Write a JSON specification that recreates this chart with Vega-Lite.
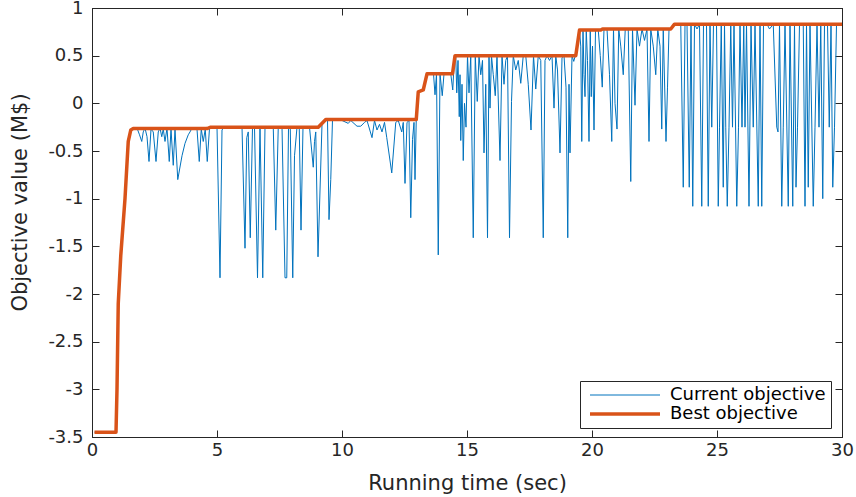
{
  "$schema": "https://vega.github.io/schema/vega-lite/v6.json",
  "width": 750,
  "height": 429,
  "autosize": "none",
  "padding": {"left": 92, "top": 8, "right": 14, "bottom": 60},
  "background": "white",
  "datasets": {
    "cur": [
      {"s":"Current objective","t":0.1,"v":-3.45},{"s":"Current objective","t":0.96,"v":-3.45},{"s":"Current objective","t":1.0,"v":-3.0},{"s":"Current objective","t":1.05,"v":-2.1},{"s":"Current objective","t":1.15,"v":-1.6},{"s":"Current objective","t":1.32,"v":-1.0},{"s":"Current objective","t":1.45,"v":-0.4},{"s":"Current objective","t":1.55,"v":-0.28},{"s":"Current objective","t":1.62,"v":-0.26},
      {"s":"Current objective","t":1.8,"v":-0.26},{"s":"Current objective","t":1.9,"v":-0.33},{"s":"Current objective","t":1.99,"v":-0.4},{"s":"Current objective","t":2.05,"v":-0.3},{"s":"Current objective","t":2.12,"v":-0.26},{"s":"Current objective","t":2.2,"v":-0.35},{"s":"Current objective","t":2.28,"v":-0.61},{"s":"Current objective","t":2.36,"v":-0.27},{"s":"Current objective","t":2.45,"v":-0.3},{"s":"Current objective","t":2.56,"v":-0.61},{"s":"Current objective","t":2.65,"v":-0.3},{"s":"Current objective","t":2.72,"v":-0.26},{"s":"Current objective","t":2.79,"v":-0.35},{"s":"Current objective","t":2.85,"v":-0.27},{"s":"Current objective","t":2.92,"v":-0.4},{"s":"Current objective","t":3.0,"v":-0.26},{"s":"Current objective","t":3.09,"v":-0.61},{"s":"Current objective","t":3.16,"v":-0.27},{"s":"Current objective","t":3.25,"v":-0.65},{"s":"Current objective","t":3.32,"v":-0.27},{"s":"Current objective","t":3.43,"v":-0.8},{"s":"Current objective","t":3.6,"v":-0.55},{"s":"Current objective","t":3.72,"v":-0.42},{"s":"Current objective","t":3.85,"v":-0.33},{"s":"Current objective","t":3.92,"v":-0.3},{"s":"Current objective","t":4.0,"v":-0.26},{"s":"Current objective","t":4.2,"v":-0.27},{"s":"Current objective","t":4.29,"v":-0.61},{"s":"Current objective","t":4.37,"v":-0.27},{"s":"Current objective","t":4.45,"v":-0.4},{"s":"Current objective","t":4.53,"v":-0.27},{"s":"Current objective","t":4.61,"v":-0.61},{"s":"Current objective","t":4.7,"v":-0.26},
      {"s":"Current objective","t":4.79,"v":-0.26},{"s":"Current objective","t":5.0,"v":-0.25},{"s":"Current objective","t":5.12,"v":-1.83},{"s":"Current objective","t":5.2,"v":-0.28},{"s":"Current objective","t":5.25,"v":-0.26},{"s":"Current objective","t":5.4,"v":-0.25},{"s":"Current objective","t":5.9,"v":-0.25},{"s":"Current objective","t":6.0,"v":-0.25},{"s":"Current objective","t":6.12,"v":-1.52},{"s":"Current objective","t":6.19,"v":-0.36},{"s":"Current objective","t":6.25,"v":-0.3},{"s":"Current objective","t":6.33,"v":-1.41},{"s":"Current objective","t":6.42,"v":-0.25},{"s":"Current objective","t":6.5,"v":-0.25},{"s":"Current objective","t":6.62,"v":-1.83},{"s":"Current objective","t":6.72,"v":-0.25},{"s":"Current objective","t":6.83,"v":-1.83},{"s":"Current objective","t":6.92,"v":-0.25},{"s":"Current objective","t":7.25,"v":-0.25},{"s":"Current objective","t":7.35,"v":-1.33},{"s":"Current objective","t":7.45,"v":-0.25},{"s":"Current objective","t":7.6,"v":-0.25},{"s":"Current objective","t":7.72,"v":-1.83},{"s":"Current objective","t":7.79,"v":-1.83},{"s":"Current objective","t":7.86,"v":-0.25},{"s":"Current objective","t":7.93,"v":-0.25},{"s":"Current objective","t":8.03,"v":-1.83},{"s":"Current objective","t":8.1,"v":-0.55},{"s":"Current objective","t":8.2,"v":-0.25},{"s":"Current objective","t":8.29,"v":-0.26},{"s":"Current objective","t":8.36,"v":-1.33},{"s":"Current objective","t":8.44,"v":-0.25},{"s":"Current objective","t":8.7,"v":-0.25},{"s":"Current objective","t":8.85,"v":-0.67},{"s":"Current objective","t":8.9,"v":-0.4},{"s":"Current objective","t":8.95,"v":-0.3},{"s":"Current objective","t":9.04,"v":-1.61},{"s":"Current objective","t":9.2,"v":-0.22},{"s":"Current objective","t":9.36,"v":-0.17},{"s":"Current objective","t":9.42,"v":-0.17},{"s":"Current objective","t":9.48,"v":-1.22},{"s":"Current objective","t":9.55,"v":-0.8},{"s":"Current objective","t":9.62,"v":-0.17},
      {"s":"Current objective","t":9.8,"v":-0.17},{"s":"Current objective","t":10.0,"v":-0.18},{"s":"Current objective","t":10.25,"v":-0.21},{"s":"Current objective","t":10.35,"v":-0.18},{"s":"Current objective","t":10.6,"v":-0.24},{"s":"Current objective","t":10.75,"v":-0.24},{"s":"Current objective","t":10.9,"v":-0.2},{"s":"Current objective","t":11.0,"v":-0.18},{"s":"Current objective","t":11.2,"v":-0.36},{"s":"Current objective","t":11.3,"v":-0.18},{"s":"Current objective","t":11.4,"v":-0.28},{"s":"Current objective","t":11.5,"v":-0.22},{"s":"Current objective","t":11.6,"v":-0.3},{"s":"Current objective","t":11.7,"v":-0.2},{"s":"Current objective","t":11.79,"v":-0.36},{"s":"Current objective","t":11.99,"v":-0.73},{"s":"Current objective","t":12.15,"v":-0.2},{"s":"Current objective","t":12.25,"v":-0.18},{"s":"Current objective","t":12.39,"v":-0.3},{"s":"Current objective","t":12.45,"v":-0.2},{"s":"Current objective","t":12.52,"v":-0.84},{"s":"Current objective","t":12.6,"v":-0.2},{"s":"Current objective","t":12.68,"v":-0.18},{"s":"Current objective","t":12.75,"v":-1.2},{"s":"Current objective","t":12.82,"v":-0.38},{"s":"Current objective","t":12.88,"v":-0.2},{"s":"Current objective","t":12.92,"v":-0.8},{"s":"Current objective","t":12.97,"v":-0.17},
      {"s":"Current objective","t":13.05,"v":0.12},{"s":"Current objective","t":13.25,"v":0.14},{"s":"Current objective","t":13.4,"v":0.31},{"s":"Current objective","t":13.66,"v":0.31},{"s":"Current objective","t":13.72,"v":0.09},{"s":"Current objective","t":13.78,"v":0.31},{"s":"Current objective","t":13.85,"v":-1.59},{"s":"Current objective","t":13.92,"v":0.31},{"s":"Current objective","t":14.01,"v":0.08},{"s":"Current objective","t":14.08,"v":0.31},{"s":"Current objective","t":14.35,"v":0.31},{"s":"Current objective","t":14.43,"v":0.14},{"s":"Current objective","t":14.5,"v":0.5},
      {"s":"Current objective","t":14.55,"v":0.5},{"s":"Current objective","t":14.59,"v":0.11},{"s":"Current objective","t":14.64,"v":0.45},{"s":"Current objective","t":14.69,"v":-0.14},{"s":"Current objective","t":14.72,"v":0.3},{"s":"Current objective","t":14.75,"v":-0.39},{"s":"Current objective","t":14.8,"v":0.2},{"s":"Current objective","t":14.85,"v":-0.6},{"s":"Current objective","t":14.9,"v":0.0},{"s":"Current objective","t":14.96,"v":-0.25},{"s":"Current objective","t":15.02,"v":0.5},{"s":"Current objective","t":15.08,"v":0.11},{"s":"Current objective","t":15.15,"v":0.5},{"s":"Current objective","t":15.25,"v":-1.41},{"s":"Current objective","t":15.33,"v":0.5},{"s":"Current objective","t":15.41,"v":0.02},{"s":"Current objective","t":15.48,"v":0.5},{"s":"Current objective","t":15.55,"v":0.3},{"s":"Current objective","t":15.62,"v":0.45},{"s":"Current objective","t":15.68,"v":-0.52},{"s":"Current objective","t":15.75,"v":0.2},{"s":"Current objective","t":15.82,"v":-1.41},{"s":"Current objective","t":15.88,"v":0.5},{"s":"Current objective","t":15.92,"v":-0.05},{"s":"Current objective","t":15.98,"v":0.5},{"s":"Current objective","t":16.05,"v":0.3},{"s":"Current objective","t":16.13,"v":0.08},{"s":"Current objective","t":16.2,"v":0.5},{"s":"Current objective","t":16.32,"v":-0.6},{"s":"Current objective","t":16.4,"v":0.5},{"s":"Current objective","t":16.48,"v":0.2},{"s":"Current objective","t":16.55,"v":0.45},{"s":"Current objective","t":16.62,"v":0.5},{"s":"Current objective","t":16.7,"v":-1.41},{"s":"Current objective","t":16.78,"v":0.02},{"s":"Current objective","t":16.85,"v":0.5},{"s":"Current objective","t":16.95,"v":0.35},{"s":"Current objective","t":17.05,"v":0.45},{"s":"Current objective","t":17.15,"v":0.21},{"s":"Current objective","t":17.25,"v":0.5},{"s":"Current objective","t":17.35,"v":0.5},{"s":"Current objective","t":17.45,"v":0.2},{"s":"Current objective","t":17.56,"v":-0.28},{"s":"Current objective","t":17.66,"v":0.5},{"s":"Current objective","t":17.75,"v":0.15},{"s":"Current objective","t":17.85,"v":0.5},{"s":"Current objective","t":17.95,"v":0.45},{"s":"Current objective","t":18.05,"v":-1.41},{"s":"Current objective","t":18.12,"v":0.45},{"s":"Current objective","t":18.2,"v":0.5},{"s":"Current objective","t":18.3,"v":0.45},{"s":"Current objective","t":18.4,"v":0.5},{"s":"Current objective","t":18.48,"v":-0.05},{"s":"Current objective","t":18.55,"v":0.5},{"s":"Current objective","t":18.62,"v":0.35},{"s":"Current objective","t":18.72,"v":-0.52},{"s":"Current objective","t":18.8,"v":0.48},{"s":"Current objective","t":18.88,"v":0.5},{"s":"Current objective","t":18.96,"v":0.17},{"s":"Current objective","t":19.03,"v":-1.41},{"s":"Current objective","t":19.08,"v":0.2},{"s":"Current objective","t":19.12,"v":-0.52},{"s":"Current objective","t":19.2,"v":0.5},{"s":"Current objective","t":19.27,"v":0.44},{"s":"Current objective","t":19.33,"v":0.5},
      {"s":"Current objective","t":19.5,"v":0.77},{"s":"Current objective","t":19.55,"v":0.6},{"s":"Current objective","t":19.59,"v":-0.4},{"s":"Current objective","t":19.64,"v":0.77},{"s":"Current objective","t":19.68,"v":0.3},{"s":"Current objective","t":19.72,"v":0.07},{"s":"Current objective","t":19.77,"v":0.77},{"s":"Current objective","t":19.82,"v":0.45},{"s":"Current objective","t":19.88,"v":-0.4},{"s":"Current objective","t":19.93,"v":0.77},{"s":"Current objective","t":19.97,"v":0.07},{"s":"Current objective","t":20.02,"v":0.6},{"s":"Current objective","t":20.08,"v":-0.28},{"s":"Current objective","t":20.14,"v":0.77},{"s":"Current objective","t":20.25,"v":0.77},{"s":"Current objective","t":20.33,"v":0.5},{"s":"Current objective","t":20.41,"v":0.17},{"s":"Current objective","t":20.48,"v":0.78},{"s":"Current objective","t":20.6,"v":0.78},{"s":"Current objective","t":20.7,"v":0.3},{"s":"Current objective","t":20.79,"v":-0.4},{"s":"Current objective","t":20.86,"v":0.78},{"s":"Current objective","t":20.92,"v":0.0},{"s":"Current objective","t":21.0,"v":-0.27},{"s":"Current objective","t":21.07,"v":0.78},{"s":"Current objective","t":21.15,"v":0.6},{"s":"Current objective","t":21.25,"v":0.3},{"s":"Current objective","t":21.33,"v":0.78},{"s":"Current objective","t":21.45,"v":0.78},{"s":"Current objective","t":21.55,"v":-0.82},{"s":"Current objective","t":21.62,"v":0.78},{"s":"Current objective","t":21.72,"v":-0.02},{"s":"Current objective","t":21.8,"v":0.78},{"s":"Current objective","t":21.9,"v":0.6},{"s":"Current objective","t":22.0,"v":0.78},{"s":"Current objective","t":22.1,"v":0.66},{"s":"Current objective","t":22.2,"v":0.78},{"s":"Current objective","t":22.28,"v":-0.4},{"s":"Current objective","t":22.35,"v":0.78},{"s":"Current objective","t":22.45,"v":0.6},{"s":"Current objective","t":22.55,"v":0.3},{"s":"Current objective","t":22.63,"v":0.78},{"s":"Current objective","t":22.72,"v":0.6},{"s":"Current objective","t":22.79,"v":-0.27},{"s":"Current objective","t":22.85,"v":0.78},{"s":"Current objective","t":22.96,"v":-0.4},{"s":"Current objective","t":23.02,"v":0.17},{"s":"Current objective","t":23.08,"v":0.78},{"s":"Current objective","t":23.15,"v":0.78},
      {"s":"Current objective","t":23.3,"v":0.83},{"s":"Current objective","t":23.55,"v":0.83},{"s":"Current objective","t":23.65,"v":-0.88},{"s":"Current objective","t":23.72,"v":0.83},{"s":"Current objective","t":23.8,"v":0.83},{"s":"Current objective","t":23.89,"v":-0.88},{"s":"Current objective","t":23.96,"v":0.83},{"s":"Current objective","t":24.03,"v":-1.08},{"s":"Current objective","t":24.1,"v":0.83},{"s":"Current objective","t":24.2,"v":0.78},{"s":"Current objective","t":24.3,"v":0.83},{"s":"Current objective","t":24.39,"v":-1.08},{"s":"Current objective","t":24.46,"v":0.83},{"s":"Current objective","t":24.58,"v":0.83},{"s":"Current objective","t":24.65,"v":-1.08},{"s":"Current objective","t":24.72,"v":0.83},{"s":"Current objective","t":24.79,"v":-0.25},{"s":"Current objective","t":24.86,"v":0.83},{"s":"Current objective","t":24.98,"v":0.83},{"s":"Current objective","t":25.05,"v":-1.08},{"s":"Current objective","t":25.1,"v":-0.25},{"s":"Current objective","t":25.17,"v":0.83},{"s":"Current objective","t":25.25,"v":-0.88},{"s":"Current objective","t":25.3,"v":0.83},{"s":"Current objective","t":25.35,"v":-0.25},{"s":"Current objective","t":25.41,"v":-1.08},{"s":"Current objective","t":25.48,"v":-0.25},{"s":"Current objective","t":25.55,"v":0.83},{"s":"Current objective","t":25.62,"v":-0.25},{"s":"Current objective","t":25.68,"v":0.83},{"s":"Current objective","t":25.79,"v":-1.08},{"s":"Current objective","t":25.86,"v":-0.25},{"s":"Current objective","t":25.92,"v":0.83},{"s":"Current objective","t":26.0,"v":-0.25},{"s":"Current objective","t":26.07,"v":0.83},{"s":"Current objective","t":26.12,"v":-0.25},{"s":"Current objective","t":26.18,"v":0.83},{"s":"Current objective","t":26.28,"v":-1.08},{"s":"Current objective","t":26.36,"v":0.83},{"s":"Current objective","t":26.45,"v":-0.25},{"s":"Current objective","t":26.52,"v":0.83},{"s":"Current objective","t":26.65,"v":-1.08},{"s":"Current objective","t":26.72,"v":0.83},{"s":"Current objective","t":26.79,"v":-1.08},{"s":"Current objective","t":26.86,"v":0.83},{"s":"Current objective","t":27.0,"v":0.83},{"s":"Current objective","t":27.1,"v":0.78},{"s":"Current objective","t":27.25,"v":0.83},{"s":"Current objective","t":27.39,"v":-0.25},{"s":"Current objective","t":27.44,"v":-0.3},{"s":"Current objective","t":27.5,"v":0.83},{"s":"Current objective","t":27.59,"v":-1.08},{"s":"Current objective","t":27.65,"v":-0.25},{"s":"Current objective","t":27.72,"v":0.83},{"s":"Current objective","t":27.85,"v":-1.08},{"s":"Current objective","t":27.92,"v":0.83},{"s":"Current objective","t":28.03,"v":-1.08},{"s":"Current objective","t":28.1,"v":0.83},{"s":"Current objective","t":28.16,"v":-0.88},{"s":"Current objective","t":28.22,"v":-0.25},{"s":"Current objective","t":28.3,"v":0.83},{"s":"Current objective","t":28.45,"v":0.83},{"s":"Current objective","t":28.52,"v":-1.08},{"s":"Current objective","t":28.58,"v":0.83},{"s":"Current objective","t":28.65,"v":-0.88},{"s":"Current objective","t":28.72,"v":0.83},{"s":"Current objective","t":28.85,"v":-1.08},{"s":"Current objective","t":28.92,"v":-0.25},{"s":"Current objective","t":29.0,"v":0.83},{"s":"Current objective","t":29.08,"v":-0.25},{"s":"Current objective","t":29.15,"v":0.83},{"s":"Current objective","t":29.23,"v":-1.0},{"s":"Current objective","t":29.3,"v":0.83},{"s":"Current objective","t":29.42,"v":0.83},{"s":"Current objective","t":29.49,"v":-0.25},{"s":"Current objective","t":29.56,"v":0.83},{"s":"Current objective","t":29.63,"v":-0.88},{"s":"Current objective","t":29.7,"v":-0.25},{"s":"Current objective","t":29.78,"v":0.83},{"s":"Current objective","t":30.0,"v":0.83}
    ],
    "best": [
      {"s":"Best objective","t":0.1,"v":-3.45},{"s":"Best objective","t":0.96,"v":-3.45},{"s":"Best objective","t":1.0,"v":-3.0},{"s":"Best objective","t":1.05,"v":-2.1},{"s":"Best objective","t":1.15,"v":-1.6},{"s":"Best objective","t":1.32,"v":-1.0},{"s":"Best objective","t":1.45,"v":-0.4},{"s":"Best objective","t":1.55,"v":-0.28},{"s":"Best objective","t":1.65,"v":-0.265},{"s":"Best objective","t":4.6,"v":-0.265},{"s":"Best objective","t":4.75,"v":-0.25},{"s":"Best objective","t":9.05,"v":-0.25},{"s":"Best objective","t":9.35,"v":-0.17},{"s":"Best objective","t":12.97,"v":-0.17},{"s":"Best objective","t":13.05,"v":0.12},{"s":"Best objective","t":13.25,"v":0.14},{"s":"Best objective","t":13.4,"v":0.31},{"s":"Best objective","t":14.42,"v":0.31},{"s":"Best objective","t":14.52,"v":0.5},{"s":"Best objective","t":19.35,"v":0.5},{"s":"Best objective","t":19.5,"v":0.77},{"s":"Best objective","t":20.35,"v":0.77},{"s":"Best objective","t":20.42,"v":0.78},{"s":"Best objective","t":23.15,"v":0.78},{"s":"Best objective","t":23.3,"v":0.83},{"s":"Best objective","t":30.0,"v":0.83}
    ]
  },
  "layer": [
    {
      "data": {"name": "cur"},
      "mark": {"type": "line", "strokeJoin": "round", "clip": true},
      "encoding": {
        "x": {"field": "t", "type": "quantitative", "scale": {"domain": [0, 30], "nice": false},
          "axis": {"orient": "bottom", "values": [0, 5, 10, 15, 20, 25, 30], "title": "Running time (sec)", "grid": false, "tickSize": -7, "labelPadding": 11, "titlePadding": 13, "labelFlush": false}},
        "y": {"field": "v", "type": "quantitative", "scale": {"domain": [-3.5, 1], "nice": false, "zero": false},
          "axis": {"orient": "left", "values": [-3.5, -3, -2.5, -2, -1.5, -1, -0.5, 0, 0.5, 1], "title": "Objective value (M$)", "grid": false, "tickSize": -7, "labelPadding": 16, "labelExpr": "'' + datum.value", "labelFlush": false,
            "titleAngle": -90, "titleBaseline": "middle", "titleAlign": "center", "titleX": -72, "titleY": 194}},
        "color": {"field": "s", "type": "nominal", "scale": {"domain": ["Current objective", "Best objective"], "range": ["#0072BD", "#D95319"]}, "legend": {"title": null}},
        "strokeWidth": {"field": "s", "type": "nominal", "scale": {"domain": ["Current objective", "Best objective"], "range": [1, 3.5]}, "legend": {"title": null}}
      }
    },
    {
      "data": {"name": "best"},
      "mark": {"type": "line", "strokeJoin": "round", "clip": true},
      "encoding": {
        "x": {"field": "t", "type": "quantitative", "axis": {"orient": "top", "values": [0, 5, 10, 15, 20, 25, 30], "labels": false, "title": null, "grid": false, "tickSize": -7, "domain": true}},
        "y": {"field": "v", "type": "quantitative", "axis": {"orient": "right", "values": [-3.5, -3, -2.5, -2, -1.5, -1, -0.5, 0, 0.5, 1], "labels": false, "title": null, "grid": false, "tickSize": -7, "domain": true}},
        "color": {"field": "s", "type": "nominal", "legend": {"title": null}},
        "strokeWidth": {"field": "s", "type": "nominal", "legend": {"title": null}}
      }
    }
  ],
  "resolve": {"axis": {"x": "independent", "y": "independent"}},
  "config": {
    "font": "DejaVu Sans",
    "view": {"stroke": "#262626", "strokeWidth": 1},
    "axis": {
      "domainColor": "#262626", "tickColor": "#262626", "labelColor": "#262626", "titleColor": "#262626",
      "labelFont": "DejaVu Sans", "labelFontSize": 18, "titleFont": "DejaVu Sans", "titleFontSize": 21, "titleFontWeight": "normal",
      "domainWidth": 1, "tickWidth": 1
    },
    "legend": {
      "orient": "none", "legendX": 488, "legendY": 373, "direction": "vertical",
      "strokeColor": "#262626", "fillColor": "white", "padding": 5, "cornerRadius": 0,
      "symbolType": "M-0.8,0H13.2", "symbolSize": 100, "labelFontSize": 18, "labelFont": "DejaVu Sans", "labelColor": "#000000",
      "labelOffset": 67, "rowPadding": 1
    }
  }
}
